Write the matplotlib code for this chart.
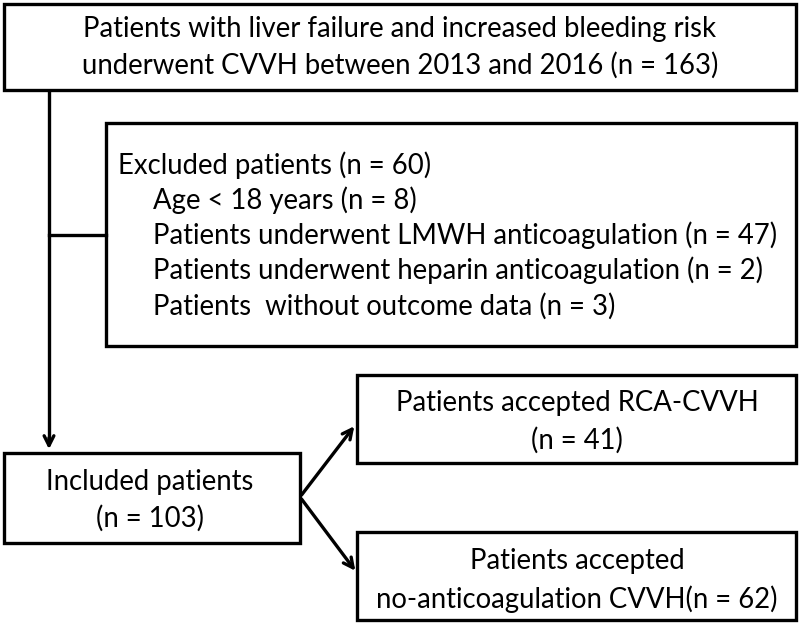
import matplotlib.pyplot as plt
from matplotlib.patches import Rectangle

plt.rcParams['font.family'] = ['Lato', 'DejaVu Sans']

# box texts
top_lines = ["Patients with liver failure and increased bleeding risk",
             "underwent CVVH between 2013 and 2016 (n = 163)"]
excl_head = "Excluded patients (n = 60)"
excl_items = ["Age < 18 years (n = 8)",
              "Patients underwent LMWH anticoagulation (n = 47)",
              "Patients underwent heparin anticoagulation (n = 2)",
              "Patients  without outcome data (n = 3)"]
incl_lines = ["Included patients", "(n = 103)"]
rca_lines = ["Patients accepted RCA-CVVH", "(n = 41)"]
noac_lines = ["Patients accepted", "no-anticoagulation CVVH(n = 62)"]

fig = plt.figure(figsize=(8, 6.23), dpi=100)
ax = fig.add_axes([0, 0, 1, 1])
ax.set_xlim(0, 800)
ax.set_ylim(623, 0)
ax.axis("off")

lw = 2.4
fs = 19.8

def box(x0, y0, x1, y1):
    ax.add_patch(Rectangle((x0, y0), x1 - x0, y1 - y0, fill=False,
                           edgecolor="black", linewidth=lw))

def centered(lines, cx, ys):
    for t, y in zip(lines, ys):
        ax.text(cx, y, t, ha="center", va="center", fontsize=fs)

# top box
box(4, 4, 796, 90)
centered(top_lines, 400, [29, 65])

# excluded box
box(106, 123, 796, 346)
ax.text(118, 165, excl_head, ha="left", va="center", fontsize=fs)
for i, t in enumerate(excl_items):
    ax.text(153, 200 + i * 35.3, t, ha="left", va="center", fontsize=fs)

# included box
box(4, 453, 300, 543)
centered(incl_lines, 150, [482, 518])

# right boxes
box(357, 375, 796, 463)
centered(rca_lines, 577, [403, 440])
box(357, 532, 796, 620)
centered(noac_lines, 577, [561, 599])

# connectors
ax.plot([49, 49], [90, 440], color="black", lw=lw, solid_capstyle="butt")
ax.plot([49, 106], [235, 235], color="black", lw=lw)
arrow = dict(arrowstyle="->,head_length=0.7,head_width=0.35", color="black", lw=lw)
ax.annotate("", xy=(49, 452), xytext=(49, 435), arrowprops=arrow)
ax.annotate("", xy=(356, 424), xytext=(300, 497), arrowprops=arrow)
ax.annotate("", xy=(357, 573), xytext=(300, 497), arrowprops=arrow)

fig.savefig("out.png", dpi=100)
